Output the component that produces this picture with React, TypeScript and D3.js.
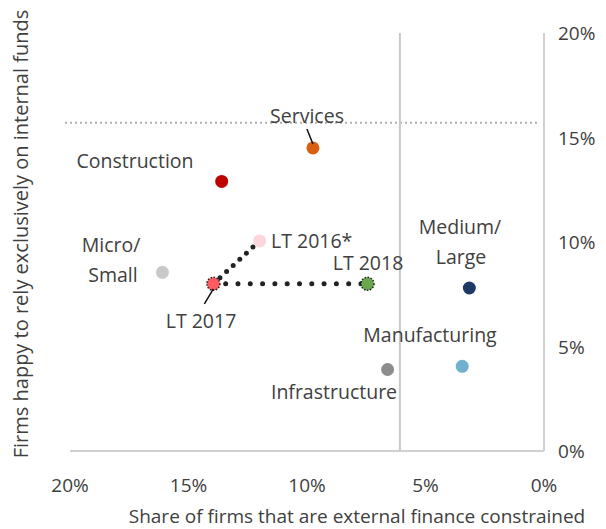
import React from "react";
import * as d3 from "d3";

const names = ["Construction", "Services", "Micro/Small", "LT 2016*", "LT 2017", "LT 2018", "Medium/Large", "Manufacturing", "Infrastructure"];
const xVals = [13.6, 9.75, 16.1, 12.0, 13.95, 7.45, 3.15, 3.45, 6.6];
const yVals = [12.9, 14.5, 8.55, 10.05, 8.0, 8.0, 7.8, 4.05, 3.9];
const colors = ["#c00000", "#d9600e", "#c9c9c9", "#fcd6da", "#ff5b60", "#6aa84f", "#1f3864", "#70b1cd", "#8c8c8c"];
const dashedBorder = [false, false, false, false, true, true, false, false, false];
const xTicks = [20, 15, 10, 5, 0];
const yTicks = [0, 5, 10, 15, 20];
const thresholdX = 6.08;
const thresholdY = 15.7;

const W = 606, H = 529;
const FONT = "'Open Sans', 'Noto Sans', sans-serif";

export default function App() {
  const x = d3.scaleLinear().domain([20, 0]).range([70, 544]);
  const y = d3.scaleLinear().domain([0, 20]).range([451, 33]);
  const pt = (n: string) => {
    const i = names.indexOf(n);
    return [x(xVals[i]), y(yVals[i])];
  };
  const [sx, sy] = pt("Services");
  const [l7x, l7y] = pt("LT 2017");
  const [l6x, l6y] = pt("LT 2016*");
  const [l8x, l8y] = pt("LT 2018");
  const line = d3.line();
  const lab = { fontFamily: FONT, fontSize: 19.5, fill: "#404040" } as const;
  const tick = { fontFamily: FONT, fontSize: 19, fill: "#404040" } as const;
  const ttl = { fontFamily: FONT, fontSize: 19, fill: "#404040" } as const;

  return (
    <svg width={W} height={H} style={{ position: "absolute", left: 0, top: 0 }}>
      <rect width={W} height={H} fill="#fff" />
      <line x1={65} x2={540} y1={y(thresholdY)} y2={y(thresholdY)} stroke="#b0b0b0" strokeWidth={2} strokeDasharray="2 3" />
      <line x1={x(20)} x2={x(0)} y1={y(0)} y2={y(0)} stroke="#d0d0d0" strokeWidth={2} />
      <line x1={x(0)} x2={x(0)} y1={y(20)} y2={y(0)} stroke="#d0d0d0" strokeWidth={2} />
      <line x1={x(thresholdX)} x2={x(thresholdX)} y1={y(20)} y2={y(0)} stroke="#c8c8c8" strokeWidth={2} />
      <path d={line([[l7x, l7y], [l6x, l6y]]) || ""} stroke="#222" strokeWidth={5} strokeLinecap="round" strokeDasharray="0 9" fill="none" />
      <path d={line([[l7x, l7y], [l8x, l8y]]) || ""} stroke="#222" strokeWidth={5} strokeLinecap="round" strokeDasharray="0 12.3" fill="none" />
      {names.map((n, i) => (
        <circle key={n} cx={x(xVals[i])} cy={y(yVals[i])} r={6.5} fill={colors[i]}
          stroke={dashedBorder[i] ? "#222" : "none"} strokeWidth={dashedBorder[i] ? 1.5 : 0} strokeDasharray={dashedBorder[i] ? "1.5 1.5" : undefined} />
      ))}
      <line x1={sx - 6} y1={sy - 19} x2={sx} y2={sy - 4} stroke="#111" strokeWidth={1.5} />
      <line x1={l7x - 9} y1={l7y + 20} x2={l7x} y2={l7y + 5} stroke="#111" strokeWidth={1.5} />
      <text x={307} y={123} textAnchor="middle" {...lab}>Services</text>
      <text x={135} y={168} textAnchor="middle" {...lab}>Construction</text>
      <text x={111} y={252} textAnchor="middle" {...lab}>Micro/</text>
      <text x={113} y={282} textAnchor="middle" {...lab}>Small</text>
      <text x={271} y={248} textAnchor="start" {...lab}>LT 2016*</text>
      <text x={368} y={270} textAnchor="middle" {...lab}>LT 2018</text>
      <text x={201} y={328} textAnchor="middle" {...lab}>LT 2017</text>
      <text x={460} y={234} textAnchor="middle" {...lab}>Medium/</text>
      <text x={461} y={264} textAnchor="middle" {...lab}>Large</text>
      <text x={430} y={342} textAnchor="middle" {...lab}>Manufacturing</text>
      <text x={334} y={399} textAnchor="middle" {...lab}>Infrastructure</text>
      {xTicks.map(t => (
        <text key={t} x={x(t)} y={492} textAnchor="middle" {...tick}>{t}%</text>
      ))}
      {yTicks.map(t => (
        <text key={t} x={558} y={y(t) + 7} textAnchor="start" {...tick}>{t}%</text>
      ))}
      <text x={357} y={523} textAnchor="middle" {...ttl}>Share of firms that are external finance constrained</text>
      <text transform={`translate(28,234) rotate(-90)`} textAnchor="middle" {...ttl} fontSize={20}>Firms happy to rely exclusively on internal funds</text>
    </svg>
  );
}
